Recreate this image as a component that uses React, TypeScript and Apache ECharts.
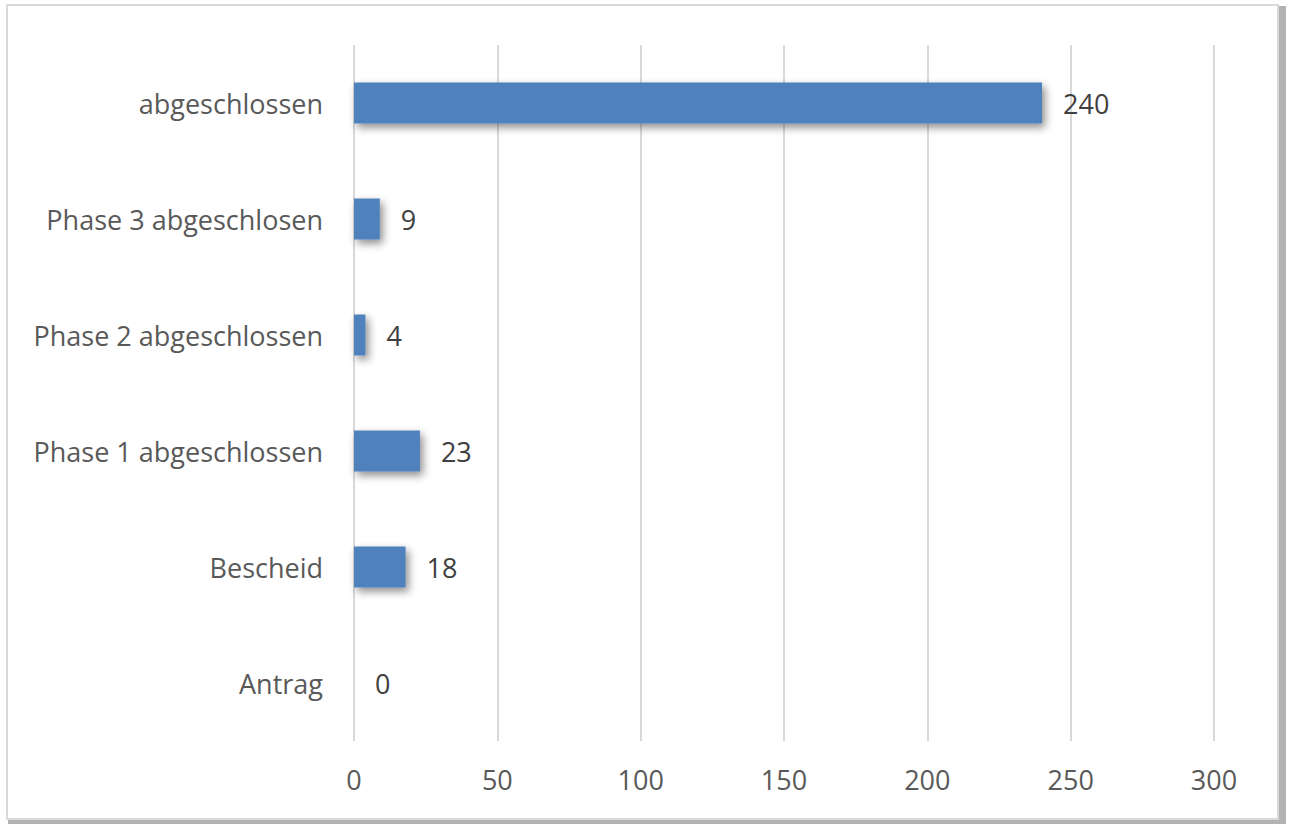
import React, { useEffect, useRef } from "react";
import * as echarts from "echarts";

const categories = [
  "Antrag",
  "Bescheid",
  "Phase 1 abgeschlossen",
  "Phase 2 abgeschlossen",
  "Phase 3 abgeschlosen",
  "abgeschlossen",
];
const values = [0, 18, 23, 4, 9, 240];
const axisMin = 0;
const axisMax = 300;
const axisInterval = 50;

const FONT = "'Open Sans', 'Noto Sans', sans-serif";
const TEXT = "#595959";

export default function App() {
  const ref = useRef<HTMLDivElement>(null);
  useEffect(() => {
    if (!ref.current) return;
    const chart = echarts.init(ref.current, undefined, { renderer: "svg" });
    chart.setOption({
      animation: false,
      backgroundColor: "transparent",
      graphic: [
        {
          type: "rect",
          z: -10,
          silent: true,
          shape: { x: 8, y: 6, width: 1278, height: 818 },
          style: { fill: "#b3b3b3" },
        },
        {
          type: "rect",
          z: -9,
          silent: true,
          shape: { x: 7, y: 5, width: 1271, height: 814 },
          style: { fill: "#ffffff", stroke: "#d9d9d9", lineWidth: 2 },
        },
      ],
      grid: { left: 354, right: 77, top: 45, bottom: 85, containLabel: false },
      xAxis: {
        type: "value",
        min: axisMin,
        max: axisMax,
        interval: axisInterval,
        axisLine: { show: false },
        axisTick: { show: false },
        splitLine: { show: true, lineStyle: { color: "#d9d9d9", width: 2 } },
        axisLabel: { color: TEXT, fontFamily: FONT, fontSize: 27, margin: 25 },
      },
      yAxis: {
        type: "category",
        data: categories,
        axisLine: { show: false },
        axisTick: { show: false },
        splitLine: { show: false },
        axisLabel: { color: TEXT, fontFamily: FONT, fontSize: 27, margin: 31 },
      },
      series: [
        {
          type: "bar",
          data: values,
          barWidth: 41,
          itemStyle: {
            color: "#4f81bd",
            shadowColor: "rgba(0,0,0,0.45)",
            shadowBlur: 8,
            shadowOffsetX: 3,
            shadowOffsetY: 4,
          },
          label: {
            show: true,
            position: "right",
            distance: 21,
            color: "#404040",
            fontFamily: FONT,
            fontSize: 27,
          },
        },
      ],
    });
    return () => chart.dispose();
  }, []);
  return (
    <div
      ref={ref}
      style={{ position: "fixed", left: 0, top: 0, width: 1291, height: 826, background: "#fff" }}
    />
  );
}
